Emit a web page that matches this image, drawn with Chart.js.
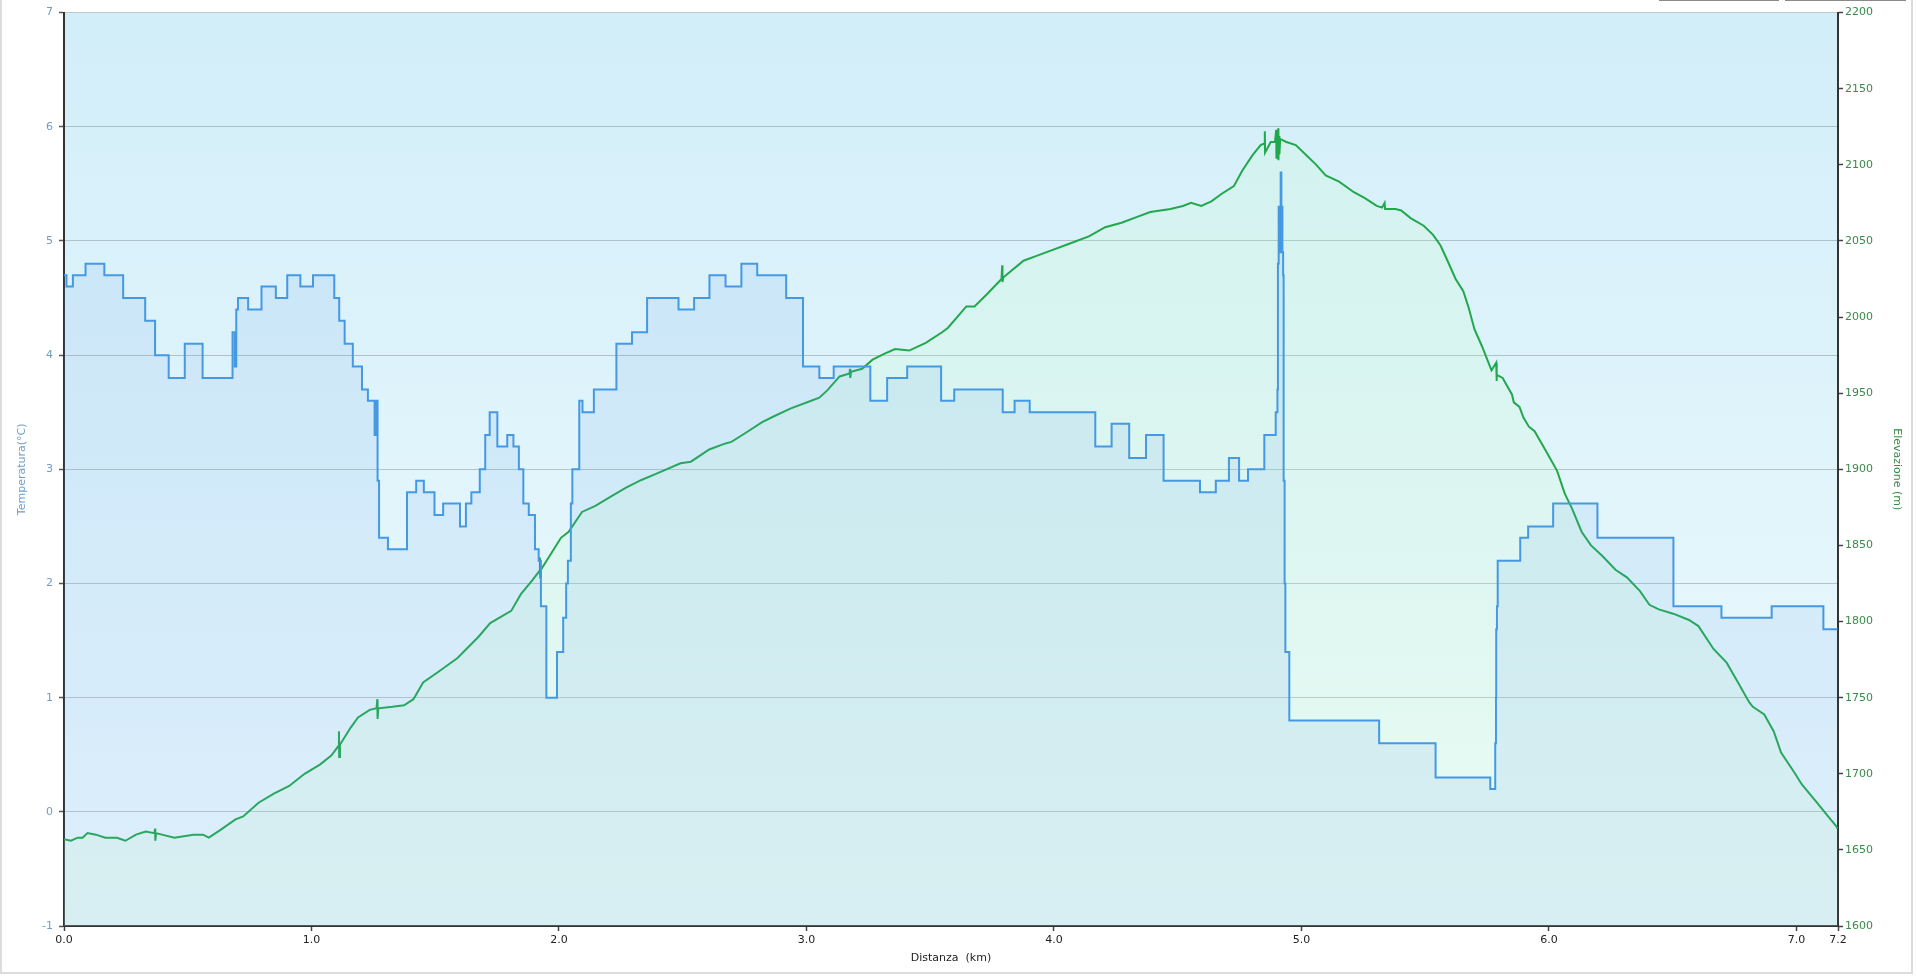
<!DOCTYPE html>
<html>
<head>
<meta charset="utf-8">
<title>Temperatura ed elevazione</title>
<script src="https://cdn.jsdelivr.net/npm/chart.js@4.4.1/dist/chart.umd.min.js"></script>
<style>
  html, body { margin: 0; padding: 0; background: #fff; overflow: hidden; }
  #wrap { position: relative; width: 1917px; height: 977px; }
  #frame { position: absolute; left: 0; top: -6px; width: 1913px; height: 980px; border: 2px solid #dcdcdc; box-sizing: border-box; }
  .btn { position: absolute; top: -20px; height: 21px; border: 1px solid #8a8a8a; background: #fff; box-sizing: border-box; }
  canvas { position: absolute; left: 0; top: 0; }
</style>
</head>
<body>
<div id="wrap">
  <div id="frame"></div>
  <div class="btn" style="left:1659px;width:120px;"></div>
  <div class="btn" style="left:1785px;width:121px;"></div>
  <canvas id="chart" width="1917" height="977"></canvas>
</div>
<script>
/* Assi */
const distanceMax = 7.168;
const xTickVals = [0, 1, 2, 3, 4, 5, 6, 7, distanceMax];
const xTickLabels = ['0.0', '1.0', '2.0', '3.0', '4.0', '5.0', '6.0', '7.0', '7.2'];
const tempTicks = [-1, 0, 1, 2, 3, 4, 5, 6, 7];
const eleTicks = [1600, 1650, 1700, 1750, 1800, 1850, 1900, 1950, 2000, 2050, 2100, 2150, 2200];

/* Temperatura (gradini: valore valido dal km indicato) */
const tempKm = [
  0, 0.010, 0.036, 0.087, 0.163, 0.239, 0.328, 0.368, 0.423, 0.488, 0.560, 0.681, 0.690, 0.696, 0.703,
  0.744, 0.798, 0.856, 0.902, 0.955, 1.006, 1.092, 1.112, 1.134, 1.167, 1.204, 1.228, 1.255, 1.261, 1.267,
  1.273, 1.309, 1.386, 1.423, 1.454, 1.497, 1.532, 1.600, 1.624, 1.646, 1.680, 1.702, 1.720, 1.751, 1.791,
  1.816, 1.838, 1.856, 1.878, 1.903, 1.918, 1.927, 1.949, 1.992, 2.017, 2.029, 2.036, 2.048, 2.054, 2.082,
  2.095, 2.141, 2.232, 2.295, 2.356, 2.483, 2.546, 2.608, 2.673, 2.737, 2.801, 2.918, 2.986, 3.052, 3.110,
  3.258, 3.326, 3.407, 3.544, 3.597, 3.793, 3.841, 3.902, 4.167, 4.233, 4.304, 4.372, 4.443, 4.590, 4.654,
  4.707, 4.748, 4.784, 4.850, 4.896, 4.903, 4.905, 4.908, 4.913, 4.916, 4.919, 4.923, 4.926, 4.928, 4.932,
  4.935, 4.951, 5.314, 5.542, 5.763, 5.783, 5.786, 5.787, 5.790, 5.793, 5.884, 5.916, 6.017, 6.196, 6.503,
  6.697, 6.900, 7.109, 7.166
];
const tempVals = [
  4.7, 4.6, 4.7, 4.8, 4.7, 4.5, 4.3, 4.0, 3.8, 4.1, 3.8, 4.2, 3.9, 4.4, 4.5,
  4.4, 4.6, 4.5, 4.7, 4.6, 4.7, 4.5, 4.3, 4.1, 3.9, 3.7, 3.6, 3.3, 3.6, 2.9,
  2.4, 2.3, 2.8, 2.9, 2.8, 2.6, 2.7, 2.5, 2.7, 2.8, 3.0, 3.3, 3.5, 3.2, 3.3,
  3.2, 3.0, 2.7, 2.6, 2.3, 2.2, 1.8, 1.0, 1.4, 1.7, 2.0, 2.2, 2.7, 3.0, 3.6,
  3.5, 3.7, 4.1, 4.2, 4.5, 4.4, 4.5, 4.7, 4.6, 4.8, 4.7, 4.5, 3.9, 3.8, 3.9,
  3.6, 3.8, 3.9, 3.6, 3.7, 3.5, 3.6, 3.5, 3.2, 3.4, 3.1, 3.3, 2.9, 2.8, 2.9,
  3.1, 2.9, 3.0, 3.3, 3.5, 3.7, 4.8, 5.3, 4.9, 5.6, 5.3, 4.9, 4.7, 2.9, 2.0,
  1.4, 0.8, 0.6, 0.3, 0.2, 0.6, 1.0, 1.6, 1.8, 2.2, 2.4, 2.5, 2.7, 2.4, 1.8,
  1.7, 1.8, 1.6, 1.6
];

/* Elevazione */
const eleKm = [
  0, 0.028, 0.055, 0.075, 0.095, 0.129, 0.167, 0.214, 0.248, 0.291, 0.330, 0.365, 0.368, 0.369, 0.372,
  0.446, 0.523, 0.562, 0.585, 0.631, 0.693, 0.724, 0.786, 0.848, 0.910, 0.972, 1.034, 1.080, 1.108, 1.111,
  1.112, 1.115, 1.157, 1.188, 1.235, 1.263, 1.266, 1.267, 1.270, 1.327, 1.374, 1.412, 1.451, 1.513, 1.590,
  1.675, 1.722, 1.807, 1.846, 1.892, 1.920, 1.923, 1.924, 1.927, 1.962, 2.008, 2.039, 2.093, 2.147, 2.209,
  2.271, 2.333, 2.392, 2.491, 2.533, 2.607, 2.673, 2.697, 2.755, 2.821, 2.871, 2.937, 3.019, 3.052, 3.085,
  3.134, 3.174, 3.176, 3.177, 3.180, 3.225, 3.267, 3.316, 3.358, 3.415, 3.482, 3.548, 3.572, 3.646, 3.679,
  3.729, 3.788, 3.791, 3.792, 3.795, 3.877, 3.927, 3.976, 4.059, 4.141, 4.207, 4.273, 4.339, 4.389, 4.471,
  4.521, 4.554, 4.595, 4.636, 4.678, 4.727, 4.760, 4.801, 4.835, 4.850, 4.852, 4.853, 4.876,
  4.893, 4.898, 4.899, 4.902, 4.903, 4.906, 4.907, 4.910, 4.911, 4.914, 4.939, 4.977, 5.022, 5.060, 5.098,
  5.152, 5.212, 5.258, 5.304, 5.326, 5.336, 5.338, 5.380, 5.403, 5.441, 5.494, 5.532, 5.562, 5.593, 5.623,
  5.654, 5.676, 5.699, 5.729, 5.768, 5.787, 5.788, 5.790, 5.813, 5.851, 5.858, 5.881, 5.897, 5.919, 5.942,
  5.988, 6.033, 6.064, 6.094, 6.132, 6.170, 6.216, 6.269, 6.315, 6.368, 6.406, 6.444, 6.505, 6.566, 6.604,
  6.665, 6.718, 6.764, 6.809, 6.824, 6.870, 6.908, 6.938, 6.991, 7.022, 7.083, 7.128, 7.159, 7.166
];
const eleVals = [
  1657, 1656, 1658, 1658, 1661, 1660, 1658, 1658, 1656, 1660, 1662, 1661, 1664, 1656, 1661,
  1658, 1660, 1660, 1658, 1663, 1670, 1672, 1681, 1687, 1692, 1700, 1706, 1712, 1718, 1728,
  1711, 1719, 1730, 1737, 1742, 1743, 1749, 1736, 1743, 1744, 1745, 1749, 1760, 1767, 1776,
  1790, 1799, 1807, 1818, 1827, 1833, 1842, 1829, 1834, 1843, 1855, 1859, 1872, 1876, 1882,
  1888, 1893, 1897, 1904, 1905, 1913, 1917, 1918, 1924, 1931, 1935, 1940, 1945, 1947, 1952,
  1961, 1963, 1966, 1960, 1964, 1966, 1972, 1976, 1979, 1978, 1983, 1990, 1993, 2007, 2007,
  2015, 2025, 2034, 2023, 2026, 2037, 2040, 2043, 2048, 2053, 2059, 2062, 2066, 2069, 2071,
  2073, 2075, 2073, 2076, 2081, 2086, 2096, 2106, 2113, 2114, 2122, 2108, 2115,
  2115, 2123, 2104, 2121, 2106, 2124, 2103, 2119, 2107, 2117, 2115, 2113, 2106, 2100, 2093,
  2089, 2082, 2078, 2073, 2072, 2075, 2071, 2071, 2070, 2065, 2060, 2054, 2047, 2036, 2025,
  2017, 2006, 1992, 1981, 1965, 1970, 1958, 1962, 1960, 1949, 1944, 1941, 1934, 1928, 1925,
  1912, 1899, 1884, 1874, 1859, 1850, 1843, 1834, 1829, 1820, 1811, 1808, 1805, 1801, 1797,
  1782, 1773, 1760, 1747, 1744, 1739, 1728, 1714, 1701, 1693, 1681, 1672, 1666, 1664
];

const FONT = 'DejaVu Sans, Verdana, sans-serif';

/* Sfondo area grafico */
const plotBackground = {
  id: 'plotBackground',
  beforeDraw(chart) {
    const { ctx, chartArea: a } = chart;
    const g = ctx.createLinearGradient(0, a.top, 0, a.bottom);
    g.addColorStop(0, '#d2eef9');
    g.addColorStop(1, '#effbfd');
    ctx.save();
    ctx.fillStyle = g;
    ctx.fillRect(a.left, a.top, a.right - a.left, a.bottom - a.top);
    ctx.restore();
  }
};

new Chart(document.getElementById('chart'), {
  type: 'line',
  data: {
    datasets: [
      {
        label: 'Temperatura',
        yAxisID: 'yTemp',
        data: tempKm.map((x, i) => ({ x, y: tempVals[i] })),
        stepped: 'before',
        borderColor: '#4599e3',
        borderWidth: 2,
        backgroundColor: 'rgba(100,160,240,0.12)',
        fill: 'start',
        pointRadius: 0,
        order: 0
      },
      {
        label: 'Elevazione',
        yAxisID: 'yEle',
        data: eleKm.map((x, i) => ({ x, y: eleVals[i] })),
        borderColor: '#22a84c',
        borderWidth: 2,
        backgroundColor: 'rgba(200,255,190,0.16)',
        fill: 'start',
        pointRadius: 0,
        tension: 0,
        order: 1
      }
    ]
  },
  options: {
    responsive: false,
    animation: false,
    layout: { padding: { top: 11, left: 0, right: 0, bottom: 0 } },
    plugins: {
      legend: { display: false },
      tooltip: { enabled: false }
    },
    scales: {
      x: {
        type: 'linear',
        min: 0,
        max: distanceMax,
        afterBuildTicks: s => { s.ticks = xTickVals.map(v => ({ value: v })); },
        afterFit: s => { s.height = 51; },
        grid: { drawOnChartArea: false, drawTicks: true, tickLength: 5, tickColor: '#444', tickWidth: 1.5 },
        border: { display: true, color: '#333', width: 2 },
        ticks: {
          autoSkip: false, maxRotation: 0, padding: 3, color: '#222',
          font: { family: FONT, size: 11 },
          callback: (v, i) => xTickLabels[i]
        },
        title: {
          display: true, text: 'Distanza  (km)', color: '#222',
          font: { family: FONT, size: 11 },
          padding: { top: 0, bottom: 12 }
        }
      },
      yTemp: {
        type: 'linear',
        position: 'left',
        min: -1,
        max: 7,
        afterBuildTicks: s => { s.ticks = tempTicks.map(v => ({ value: v })); },
        afterFit: s => { s.width = 64; },
        grid: { color: 'rgba(0,0,0,0.2)', lineWidth: 1, drawTicks: true, tickLength: 5, tickColor: '#555', tickWidth: 1.5 },
        border: { display: true, color: '#333', width: 2 },
        ticks: {
          padding: 6, color: '#6e9cc8', font: { family: FONT, size: 11 },
          callback: v => String(v)
        },
        title: {
          display: true, text: 'Temperatura(°C)', color: '#6e9cc8',
          font: { family: FONT, size: 11 },
          padding: { top: 16, bottom: 0 }
        }
      },
      yEle: {
        type: 'linear',
        position: 'right',
        min: 1600,
        max: 2200,
        afterBuildTicks: s => { s.ticks = eleTicks.map(v => ({ value: v })); },
        afterFit: s => { s.width = 79; },
        grid: { drawOnChartArea: false, drawTicks: true, tickLength: 5, tickColor: '#444', tickWidth: 1.5 },
        border: { display: true, color: '#333', width: 2 },
        ticks: {
          padding: 2, color: '#3a8a4a', font: { family: FONT, size: 11 },
          callback: v => String(v)
        },
        title: {
          display: true, text: 'Elevazione (m)', color: '#3a8a4a',
          font: { family: FONT, size: 11 },
          padding: { top: 14, bottom: 0 }
        }
      }
    }
  },
  plugins: [plotBackground]
});
</script>
</body>
</html>
